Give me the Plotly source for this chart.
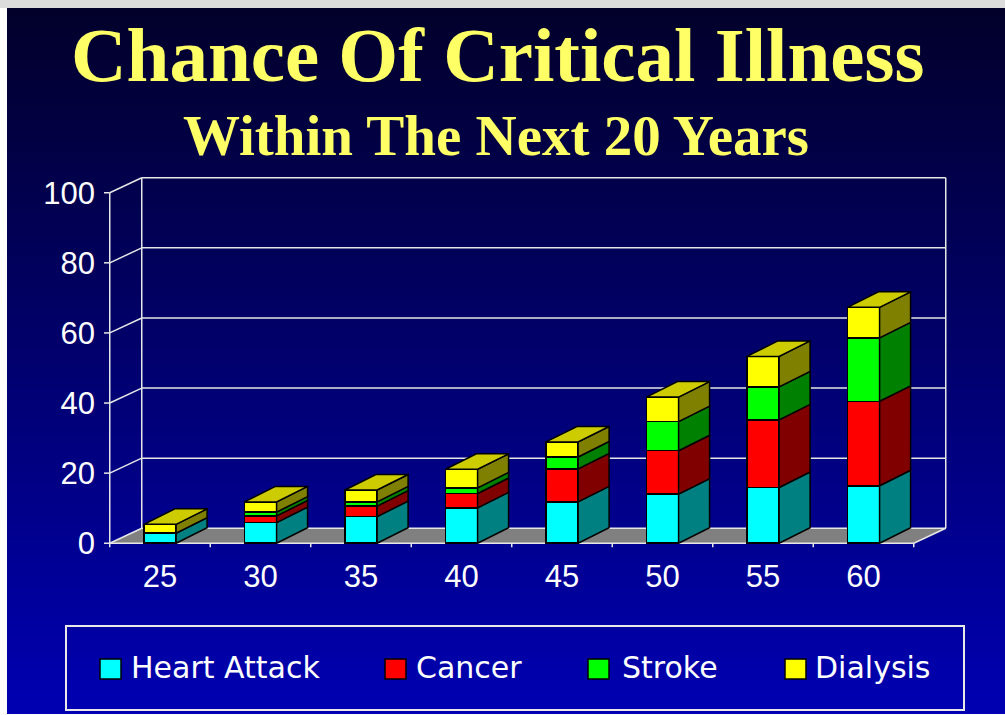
import base64
import struct
import zlib

import plotly.graph_objects as go

# ---------------- data ----------------
ages = ["25", "30", "35", "40", "45", "50", "55", "60"]
heart_attack = [2.9, 5.9, 7.6, 10.1, 11.8, 14.0, 15.9, 16.4]
cancer = [0.0, 1.9, 3.0, 4.1, 9.4, 12.4, 19.3, 24.1]
stroke = [0.0, 1.1, 1.2, 1.6, 3.4, 8.3, 9.4, 18.1]
dialysis = [2.5, 2.9, 3.4, 5.3, 4.3, 7.0, 8.7, 8.7]
series_names = ["Heart Attack", "Cancer", "Stroke", "Dialysis"]
y_ticks = [0, 20, 40, 60, 80, 100]

title_text = "Chance Of Critical Illness"
subtitle_text = "Within The Next 20 Years"

# ---------------- styles ----------------
front_colors = ["#00FFFF", "#FF0000", "#00FF00", "#FFFF00"]
side_colors = ["#008080", "#800000", "#008000", "#808000"]
top_color = "#CCCC00"
grid_color = "#E6E6E6"

# layout is designed in 1005x715 reference pixels; the captured page area is a
# little taller than the window, so vertical positions are scaled by SY
REF_W, REF_H = 1005, 715
W, HF = 1005, 726
SY = HF / REF_H


def pxp(px):   # reference px -> paper x
    return px / W


def pyp(py):   # reference px -> paper y
    return 1 - py * SY / HF


# pixel geometry of the chart (front plane), reference pixels
X0_PX, X_UNIT = 160.0, 100.5   # px of first category, px per category
Y0_PX, Y_UNIT = 544.0, 3.51    # px of value 0, px per value unit
PLOT_L, PLOT_R, PLOT_T, PLOT_B = 104, 952, 173, 550


def ux(px):
    return (px - X0_PX) / X_UNIT


def uy(py):
    return (Y0_PX - py) / Y_UNIT


BW = 0.32                                 # bar width (category units)
DXB, DYB = 31 / X_UNIT, 15.5 / Y_UNIT     # bar depth
DXW, DYW = 32 / X_UNIT, 15 / Y_UNIT       # wall depth
XL, XR = -0.5, len(ages) - 0.5            # front plane extent

series = [heart_attack, cancer, stroke, dialysis]
xs = list(range(len(ages)))

fig = go.Figure()

# front faces (stacked bars)
for k, (name, vals) in enumerate(zip(series_names, series)):
    fig.add_trace(go.Bar(
        x=xs, y=vals, width=BW, name=name, showlegend=False,
        marker=dict(color=front_colors[k], line=dict(color="black", width=1.5)),
        hoverinfo="skip",
    ))

# side faces computed from the stacked data
base = [0.0] * len(xs)
for k, vals in enumerate(series):
    px_, py_ = [], []
    for i, v in enumerate(vals):
        b = base[i]
        t = b + v
        xr = xs[i] + BW / 2
        px_ += [xr, xr + DXB, xr + DXB, xr, xr, None]
        py_ += [b, b + DYB, t + DYB, t, b, None]
        base[i] = t
    fig.add_trace(go.Scatter(
        x=px_, y=py_, mode="lines", fill="toself", fillcolor=side_colors[k],
        line=dict(color="black", width=1.5), showlegend=False, hoverinfo="skip",
    ))

# top faces
tx, ty = [], []
for i, t in enumerate(base):
    xl = xs[i] - BW / 2
    xr = xs[i] + BW / 2
    tx += [xl, xr, xr + DXB, xl + DXB, xl, None]
    ty += [t, t, t + DYB, t + DYB, t, None]
fig.add_trace(go.Scatter(
    x=tx, y=ty, mode="lines", fill="toself", fillcolor=top_color,
    line=dict(color="black", width=1.5), showlegend=False, hoverinfo="skip",
))


# ---------------- background gradient (PNG built in memory) ----------------
def gradient_png(h, top, bot, w=2):
    raw = b""
    for i in range(h):
        f = i / (h - 1)
        rgb = bytes(round(a + (c - a) * f) for a, c in zip(top, bot))
        raw += b"\x00" + rgb * w

    def chunk(tag, data):
        c = struct.pack(">I", len(data)) + tag + data
        return c + struct.pack(">I", zlib.crc32(tag + data) & 0xFFFFFFFF)

    png = (b"\x89PNG\r\n\x1a\n"
           + chunk(b"IHDR", struct.pack(">IIBBBBB", w, h, 8, 2, 0, 0, 0))
           + chunk(b"IDAT", zlib.compress(raw))
           + chunk(b"IEND", b""))
    return "data:image/png;base64," + base64.b64encode(png).decode()


BG_L, BG_T = 7, 8
bg_src = gradient_png(int(round(HF - BG_T * SY)), (2, 0, 42), (0, 0, 178))

shapes = []

# grey strip at the top of the page
shapes.append(dict(type="rect", xref="paper", yref="paper", x0=0, x1=1,
                   y0=pyp(BG_T), y1=1, fillcolor="#DCDCDC", line=dict(width=0),
                   layer="below"))

# floor
floor_path = "M %f,%f L %f,%f L %f,%f L %f,%f Z" % (
    XL, 0, XR, 0, XR + DXW, DYW, XL + DXW, DYW)
shapes.append(dict(type="path", xref="x", yref="y", path=floor_path,
                   fillcolor="#808080", line=dict(width=0), layer="below"))


def ln(x0, y0, x1, y1, color=grid_color, width=1.5):
    shapes.append(dict(type="line", xref="x", yref="y", x0=x0, y0=y0, x1=x1, y1=y1,
                       line=dict(color=color, width=width), layer="below"))


# back wall gridlines + left wall diagonals + left ticks
for v in y_ticks:
    ln(XL + DXW, v + DYW, XR + DXW, v + DYW)
    ln(XL, v, XL + DXW, v + DYW)
    ln(XL - 6 / X_UNIT, v, XL, v)
ln(XL + DXW, DYW, XL + DXW, y_ticks[-1] + DYW)
ln(XR + DXW, DYW, XR + DXW, y_ticks[-1] + DYW)
ln(XR, 0, XR + DXW, DYW)
ln(XL, 0, XL, y_ticks[-1])
ln(XL, 0, XR, 0)
# category boundary ticks
for i in range(len(xs) + 1):
    ln(i - 0.5, 0, i - 0.5, -4 / Y_UNIT)

# legend box
shapes.append(dict(type="rect", xref="paper", yref="paper",
                   x0=pxp(66), x1=pxp(964), y0=pyp(711), y1=pyp(627),
                   line=dict(color="#E8E8E8", width=2), fillcolor="rgba(0,0,0,0)"))

annotations = []
legend_sq_x = [100, 385, 588, 785]
legend_tx_x = [131, 416, 622, 815]
for k, name in enumerate(series_names):
    shapes.append(dict(type="rect", xref="paper", yref="paper",
                       x0=pxp(legend_sq_x[k]), x1=pxp(legend_sq_x[k] + 21),
                       y0=pyp(680), y1=pyp(660),
                       fillcolor=front_colors[k], line=dict(color="black", width=1.5)))
    annotations.append(dict(
        text=name, xref="paper", yref="paper", x=pxp(legend_tx_x[k] - 2),
        y=pyp(668), xanchor="left", yanchor="middle", showarrow=False,
        font=dict(family="DejaVu Sans, Arial, sans-serif", size=30, color="white"),
    ))

# titles
annotations.append(dict(
    text=title_text, xref="paper", yref="paper", x=pxp(497), y=pyp(55),
    xanchor="center", yanchor="middle", showarrow=False,
    font=dict(family="Liberation Serif, Times New Roman, serif", size=77,
              color="#FFFF66", weight="bold"),
))
annotations.append(dict(
    text=subtitle_text, xref="paper", yref="paper", x=pxp(496), y=pyp(136),
    xanchor="center", yanchor="middle", showarrow=False,
    font=dict(family="Liberation Serif, Times New Roman, serif", size=57,
              color="#FFFF66", weight="bold"),
))

axis_font = dict(family="Liberation Sans, Arial, sans-serif", size=31, color="white")

fig.update_layout(
    width=W, height=HF,
    margin=dict(l=0, r=0, t=0, b=0),
    paper_bgcolor="white",
    plot_bgcolor="rgba(0,0,0,0)",
    barmode="stack",
    hovermode=False,
    showlegend=False,
    shapes=shapes,
    annotations=annotations,
    images=[dict(source=bg_src, xref="paper", yref="paper", x=pxp(BG_L), y=pyp(BG_T),
                 sizex=(W - BG_L) / W, sizey=pyp(BG_T), sizing="stretch",
                 xanchor="left", yanchor="top", layer="below")],
    xaxis=dict(
        domain=[pxp(PLOT_L), pxp(PLOT_R)],
        range=[ux(PLOT_L), ux(PLOT_R)],
        tickmode="array", tickvals=xs, ticktext=ages,
        showgrid=False, zeroline=False, showline=False, ticks="",
        tickfont=axis_font, ticklabelstandoff=6, fixedrange=True,
    ),
    yaxis=dict(
        domain=[pyp(PLOT_B), pyp(PLOT_T)],
        range=[uy(PLOT_B), uy(PLOT_T)],
        tickmode="array", tickvals=y_ticks,
        showgrid=False, zeroline=False, showline=False, ticks="",
        tickfont=axis_font, ticklabelstandoff=8, fixedrange=True,
    ),
)

# remove the default page margin so the figure starts at the window corner
fig.write_html(
    "out.html",
    config={"displayModeBar": False},
    post_script="document.body.style.margin='0px';document.body.style.overflow='hidden';",
)
